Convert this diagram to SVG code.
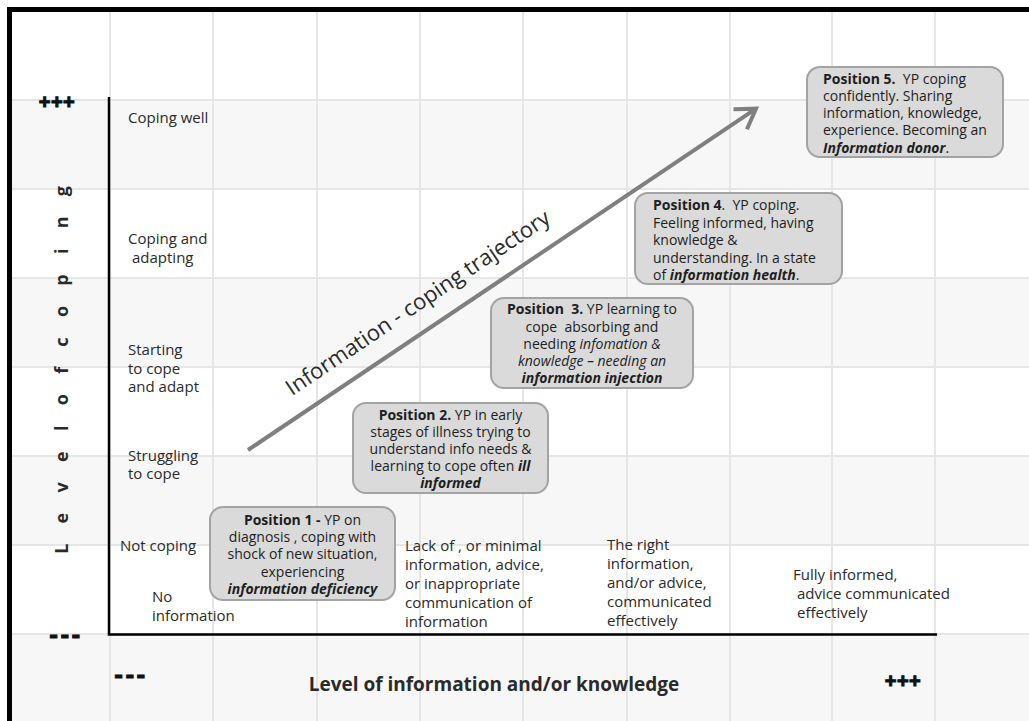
<svg xmlns="http://www.w3.org/2000/svg" width="1029" height="721" viewBox="0 0 1029 721">
<defs>
<style>
.t{font-family:"Open Sans","Liberation Sans",sans-serif;fill:#2a2a2a;}
.lbl{font-size:15px;}
.bx{font-size:14px;fill:#1e1e1e;}
.b{font-weight:bold;}
.i{font-style:italic;}
.bi{font-weight:bold;font-style:italic;}
.grid{stroke:#e6e6e6;stroke-width:2;fill:none;}
.band{fill:#f7f7f7;}
.node{fill:#dadada;stroke:#a3a3a3;stroke-width:2;}
.sym{font-family:"Liberation Sans",Arial,sans-serif;font-weight:bold;fill:#111;stroke:#111;stroke-width:1;}
</style>
<marker id="chev" markerUnits="userSpaceOnUse" markerWidth="34" markerHeight="34" viewBox="-24 -17 34 34" refX="0" refY="0" orient="auto">
<path d="M-19,-12 L0,0 L-19,12" fill="none" stroke="#7f7f7f" stroke-width="4" stroke-linejoin="miter"/>
</marker>
</defs>

<g id="background">
<rect x="0" y="0" width="1029" height="721" fill="#ffffff"/>
<rect class="band" x="10" y="100" width="1019" height="89"/>
<rect class="band" x="10" y="278" width="1019" height="89"/>
<rect class="band" x="10" y="456" width="1019" height="89"/>
<rect class="band" x="10" y="634" width="1019" height="87"/>
<g class="grid">
<path d="M110 10V721M213 10V721M317 10V721M420 10V721M523 10V721M627 10V721M730 10V721M832 10V721M935 10V721"/>
<path d="M10 100H1029M10 189H1029M10 278H1029M10 367H1029M10 456H1029M10 545H1029M10 634H1029"/>
</g>
<path d="M9.5 721V9.5H1029" fill="none" stroke="#000" stroke-width="5"/>
</g>

<g id="axes">
<path d="M109 97V634.5H937" fill="none" stroke="#000" stroke-width="2.5"/>
<text class="sym" x="57" y="109" font-size="20" text-anchor="middle" letter-spacing="0.5">+++</text>
<text class="sym" x="66" y="643" font-size="26" text-anchor="middle" letter-spacing="2.5">---</text>
<text class="sym" x="131" y="683" font-size="26" text-anchor="middle" letter-spacing="2.5">---</text>
<text class="sym" x="903" y="688" font-size="20" text-anchor="middle" letter-spacing="0.5">+++</text>
<text class="t b" x="494" y="691" font-size="19" text-anchor="middle">Level of information and/or knowledge</text>
<text class="t b" transform="translate(68 366) rotate(-90)" font-size="18" text-anchor="middle" letter-spacing="7.8">L e v e l o f c o p i n g</text>
</g>

<g id="row-labels" class="t lbl">
<text x="128" y="123">Coping well</text>
<text x="128" y="244">Coping and</text>
<text x="132" y="263">adapting</text>
<text x="128" y="355">Starting</text>
<text x="128" y="374">to cope</text>
<text x="128" y="392">and adapt</text>
<text x="128" y="461">Struggling</text>
<text x="128" y="479">to cope</text>
<text x="120" y="551">Not coping</text>
<text x="152" y="602">No</text>
<text x="152" y="621">information</text>
</g>

<g id="column-labels" class="t lbl">
<text x="405" y="551">Lack of , or minimal</text>
<text x="405" y="570">information, advice,</text>
<text x="405" y="589">or inappropriate</text>
<text x="405" y="608">communication of</text>
<text x="405" y="627">information</text>
<text x="607" y="550">The right</text>
<text x="607" y="569">information,</text>
<text x="607" y="588">and/or advice,</text>
<text x="607" y="607">communicated</text>
<text x="607" y="626">effectively</text>
<text x="793" y="580">Fully informed,</text>
<text x="797" y="599">advice communicated</text>
<text x="797" y="618">effectively</text>
</g>

<g id="connectors">
<line x1="248" y1="450" x2="756" y2="108.7" stroke="#7f7f7f" stroke-width="4" marker-end="url(#chev)"/>
<text class="t" transform="translate(422 309) rotate(-33.9)" font-size="22" text-anchor="middle">Information - coping trajectory</text>
</g>

<g id="position1">
<rect class="node" x="210" y="507" width="185" height="93" rx="13"/>
<g class="t bx" text-anchor="middle">
<text x="302.5" y="525"><tspan class="b">Position 1 -</tspan> YP on</text>
<text x="302.5" y="542">diagnosis , coping with</text>
<text x="302.5" y="559">shock of new situation,</text>
<text x="302.5" y="577">experiencing</text>
<text x="302.5" y="594" class="bi">information deficiency</text>
</g>
</g>

<g id="position2">
<rect class="node" x="353" y="403" width="195" height="90" rx="13"/>
<g class="t bx" text-anchor="middle">
<text x="450.5" y="420"><tspan class="b">Position 2.</tspan> YP in early</text>
<text x="450.5" y="437">stages of illness trying to</text>
<text x="450.5" y="454">understand info needs &amp;</text>
<text x="450.5" y="471">learning to cope often <tspan class="bi">ill</tspan></text>
<text x="450.5" y="488" class="bi">informed</text>
</g>
</g>

<g id="position3">
<rect class="node" x="491" y="298" width="202" height="90" rx="13"/>
<g class="t bx" text-anchor="middle">
<text x="592" y="314" xml:space="preserve"><tspan class="b">Position  3.</tspan> YP learning to</text>
<text x="592" y="331.5" xml:space="preserve">cope  absorbing and</text>
<text x="592" y="349">needing <tspan class="i">infomation &amp;</tspan></text>
<text x="592" y="366" class="i">knowledge – needing an</text>
<text x="592" y="383" class="bi">information injection</text>
</g>
</g>

<g id="position4">
<rect class="node" x="635" y="193" width="207" height="91" rx="13"/>
<g class="t bx">
<text x="653" y="210" xml:space="preserve"><tspan class="b">Position 4</tspan>.  YP coping.</text>
<text x="653" y="227.5">Feeling informed, having</text>
<text x="653" y="245">knowledge &amp;</text>
<text x="653" y="262.5">understanding. In a state</text>
<text x="653" y="280">of <tspan class="bi">information health</tspan>.</text>
</g>
</g>

<g id="position5">
<rect class="node" x="807" y="67" width="196" height="90" rx="13"/>
<g class="t bx">
<text x="823" y="83.5" xml:space="preserve"><tspan class="b">Position 5.</tspan>  YP coping</text>
<text x="823" y="100.8">confidently. Sharing</text>
<text x="823" y="118">information, knowledge,</text>
<text x="823" y="135.3">experience. Becoming an</text>
<text x="823" y="152.5"><tspan class="bi">Information donor</tspan>.</text>
</g>
</g>
</svg>
